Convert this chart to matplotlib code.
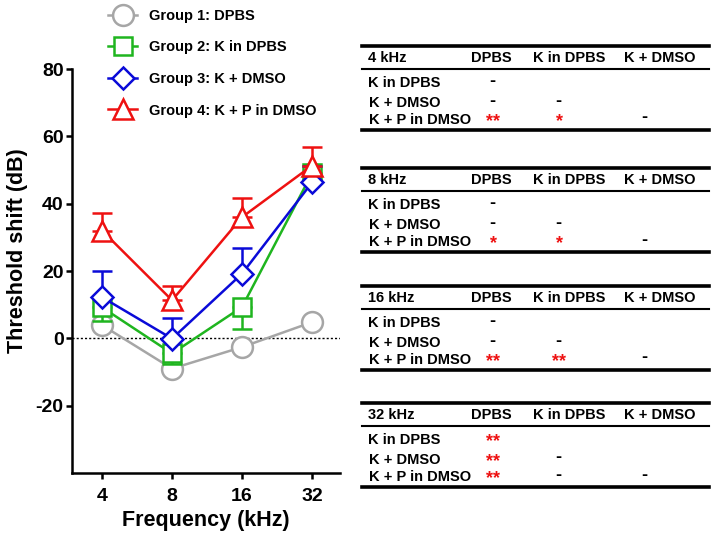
import numpy as np
import matplotlib
matplotlib.use('Agg')
import matplotlib.pyplot as plt
from matplotlib.lines import Line2D

plt.rcParams['font.family'] = ['Liberation Sans', 'DejaVu Sans']
plt.rcParams['font.weight'] = 'bold'
plt.rcParams['axes.unicode_minus'] = False

# data
freqs = ['4', '8', '16', '32']
groups = ['Group 1: DPBS', 'Group 2: K in DPBS', 'Group 3: K + DMSO', 'Group 4: K + P in DMSO']
colors = ['#a6a6a6', '#1fb51f', '#0a0ad8', '#ee1111']
markers = ['o', 's', 'D', '^']
msizes = [15, 12.5, 11, 15]

g1 = [3.9, -9.0, -2.6, 4.8]
g2 = [9.2, -4.5, 9.3, 49.0]
g3 = [12.2, -0.1, 19.2, 46.3]
g4 = [32.0, 11.3, 36.0, 51.3]
means = [g1, g2, g3, g4]

# one-sided SEM bars (lower, upper)
err_lo = [[0, 0, 0, 0], [4.1, 3.0, 6.4, 2.0], [0, 0, 0, 0], [0, 0, 0, 0]]
err_hi = [[0, 0, 0, 0], [0, 0, 0, 0], [7.9, 6.1, 7.7, 5.0], [5.3, 4.2, 5.6, 5.4]]

# significance tables
tab_freqs = ['4 kHz', '8 kHz', '16 kHz', '32 kHz']
tab_cols = ['DPBS', 'K in DPBS', 'K + DMSO']
tab_rows = ['K in DPBS', 'K + DMSO', 'K + P in DMSO']
sig = [
    [['-'], ['-', '-'], ['**', '*', '-']],
    [['-'], ['-', '-'], ['*', '*', '-']],
    [['-'], ['-', '-'], ['**', '**', '-']],
    [['**'], ['**', '-'], ['**', '-', '-']],
]

W, H = 713, 541
fig = plt.figure(figsize=(W / 100, H / 100), dpi=100)
ax = fig.add_axes([72 / W, 1 - 473 / H, 268 / W, 404 / H])

x = np.arange(len(freqs))
handles = []
for i in range(4):
    z = 2 + i * 0.1
    if max(err_lo[i]) > 0 or max(err_hi[i]) > 0:
        ax.errorbar(x, means[i], yerr=[err_lo[i], err_hi[i]], fmt='none', ecolor=colors[i],
                    elinewidth=1.8, capsize=7, capthick=1.8, zorder=z)
    h, = ax.plot(x, means[i], color=colors[i], lw=1.8, marker=markers[i], ms=msizes[i],
                 mfc='white', mec=colors[i], mew=1.8, label=groups[i], zorder=z + 0.05)
    handles.append(h)

ax.axhline(0, color='black', lw=1, ls=(0, (1.5, 1.5)), zorder=1)

ax.set_xlim(-0.43, 3.4)
ax.set_ylim(-40, 80)
ax.set_yticks([-20, 0, 20, 40, 60, 80])
ax.set_xticks(x)
ax.set_xticklabels(freqs)
ax.spines['top'].set_visible(False)
ax.spines['right'].set_visible(False)
for s in ['left', 'bottom']:
    ax.spines[s].set_linewidth(1.8)
ax.tick_params(axis='both', width=1.8, length=4, labelsize=14)
ax.tick_params(axis='x', pad=6.5)
ax.tick_params(axis='y', pad=2)
ax.set_xlabel('Frequency (kHz)', fontsize=15.5, fontweight='bold')
ax.set_ylabel('Threshold shift (dB)', fontsize=15.5, fontweight='bold')
ax.yaxis.set_label_coords(-0.165, 0.55)

fig.legend(handles=handles, loc='upper left', bbox_to_anchor=(108 / W, 1 - 9 / H),
           frameon=False, fontsize=10.5, handlelength=2.0, handletextpad=0.8,
           labelspacing=1.2, borderpad=0, borderaxespad=0)


def fx(px):
    return px / W


def fy(py):
    return 1 - py / H


col_head_x = [491, 569, 660]
col_val_x = [492, 558, 644]
tops = [46, 168, 286, 403]
for t, top in enumerate(tops):
    fig.add_artist(Line2D([fx(362), fx(709)], [fy(top)] * 2, color='black', lw=2.6))
    fig.add_artist(Line2D([fx(362), fx(709)], [fy(top + 23)] * 2, color='black', lw=1.5))
    fig.add_artist(Line2D([fx(362), fx(709)], [fy(top + 84)] * 2, color='black', lw=2.6))
    fig.text(fx(368), fy(top + 12), tab_freqs[t], fontsize=10.5, va='center', ha='left')
    for c, name in enumerate(tab_cols):
        fig.text(fx(col_head_x[c]), fy(top + 12), name, fontsize=10.5, va='center', ha='center')
    for r, rname in enumerate(tab_rows):
        ry = top + [37, 57, 74][r]
        fig.text(fx(368 + (1 if r else 0)), fy(ry), rname, fontsize=10.5, va='center', ha='left')
        for c, val in enumerate(sig[t][r]):
            if '*' in val:
                fig.text(fx(col_val_x[c] + 1), fy(ry + 2), val, fontsize=13, va='center',
                         ha='center', color='#ee1111')
            else:
                fig.text(fx(col_val_x[c]), fy(ry - 2), val, fontsize=13, va='center',
                         ha='center', color='black')

fig.savefig('out.png', dpi=100)
